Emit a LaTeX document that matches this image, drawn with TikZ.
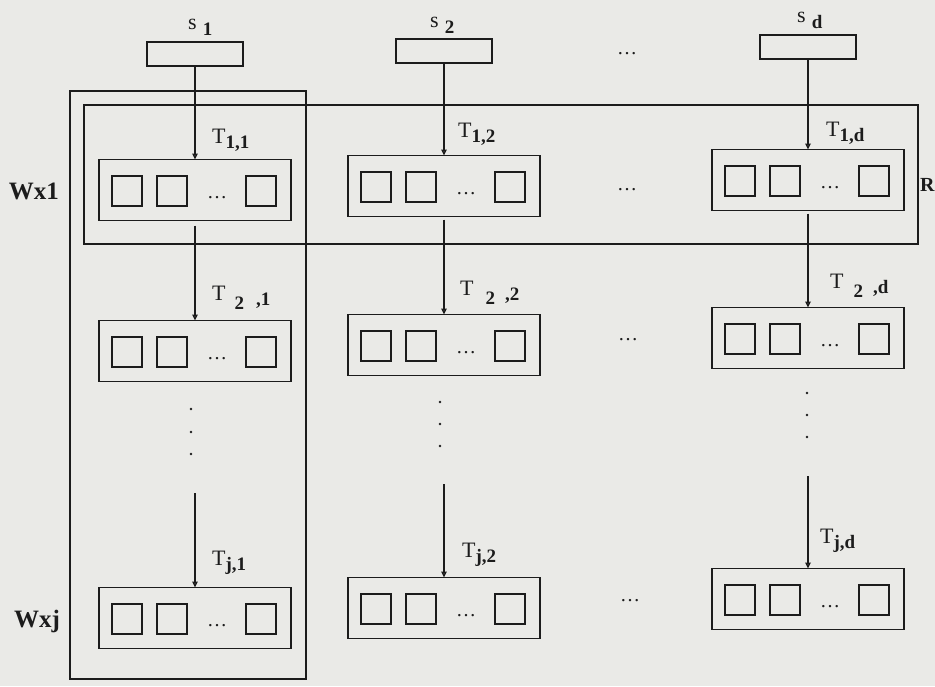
\documentclass[tikz,border=0pt]{standalone}
\usepackage{fontspec}
\setmainfont{Liberation Serif}
\usetikzlibrary{arrows.meta}
\definecolor{paper}{RGB}{234,234,231}
\definecolor{ink}{RGB}{28,28,28}
\newcommand{\subf}{\fontsize{19}{19}\selectfont\bfseries}
\newcommand{\labf}{\fontsize{22}{22}\selectfont}
\newcommand{\cellbox}[3]{%
  \node[cellbox] (#1) at (#2,#3) {};
  \node[sq] (#1a) at ({#2-68},{#3+1}) {};
  \node[sq] (#1b) at ({#2-23},{#3+1}) {};
  \node[sq] (#1c) at ({#2+66},{#3+1}) {};
  \node[hdots] (#1d) at ({#2+22},{#3+8}) {…};
}
\begin{document}
\begin{tikzpicture}[x=1pt,y=-1pt,
  every node/.style={text=ink},
  frame/.style={draw=ink, line width=1.8pt, inner sep=0pt, outer sep=0pt},
  cellbox/.style={frame, minimum width=192pt, minimum height=61pt},
  sbox/.style={frame, minimum width=96pt, minimum height=24pt},
  sq/.style={draw=ink, line width=2pt, inner sep=0pt, minimum size=30pt},
  hdots/.style={anchor=base, inner sep=0pt, font=\fontsize{20}{20}\selectfont},
  vdot/.style={circle, fill=ink, inner sep=0pt, minimum size=2.8pt},
  lab/.style={anchor=base west, inner sep=0pt, font=\labf},
  side/.style={anchor=base, inner sep=0pt, font=\fontsize{25}{25}\selectfont\bfseries},
  arr/.style={draw=ink, line width=1.5pt, -{Triangle[open, length=6pt, width=5.5pt]}}
]
\fill[paper] (0,0) rectangle (935,686);
\useasboundingbox (0,0) rectangle (935,686);

% grouping frames
\node[frame, minimum width=236pt, minimum height=588pt] (wcol) at (188,385) {};
\node[frame, minimum width=834pt, minimum height=139pt] (rrow) at (501,174.5) {};

% top source boxes
\node[sbox] (s1) at (195,54) {};
\node[sbox] (s2) at (444,51) {};
\node[sbox] (sd) at (808,47) {};
\node[lab] (ls1) at (188,29) {s\hspace{6pt}\raisebox{-6pt}{\subf 1}};
\node[lab] (ls2) at (430,27) {s\hspace{6pt}\raisebox{-6pt}{\subf 2}};
\node[lab] (lsd) at (797,22) {s\hspace{6pt}\raisebox{-6pt}{\subf d}};
\node[hdots] (topdots) at (627,54) {…};

% cells
\cellbox{r1c1}{195}{190}
\cellbox{r1c2}{444}{186}
\cellbox{r1cd}{808}{180}
\cellbox{r2c1}{195}{351}
\cellbox{r2c2}{444}{345}
\cellbox{r2cd}{808}{338}
\cellbox{rjc1}{195}{618}
\cellbox{rjc2}{444}{608}
\cellbox{rjcd}{808}{599}

% horizontal dots between columns
\node[hdots] (h1) at (627,190) {…};
\node[hdots] (h2) at (628,340) {…};
\node[hdots] (hj) at (630,601) {…};

% vertical dots
\node[vdot] (v1a) at (191,409) {};
\node[vdot] (v1b) at (191,432) {};
\node[vdot] (v1c) at (191,454) {};
\node[vdot] (v2a) at (440,402) {};
\node[vdot] (v2b) at (440,424) {};
\node[vdot] (v2c) at (440,446) {};
\node[vdot] (vda) at (807,393) {};
\node[vdot] (vdb) at (807,415) {};
\node[vdot] (vdc) at (807,437) {};

% arrows
\draw[arr] (s1) -- (r1c1);
\draw[arr] (s2) -- (r1c2);
\draw[arr] (sd) -- (r1cd);
\draw[arr, shorten <=5pt] (r1c1) -- (r2c1);
\draw[arr, shorten <=3pt] (r1c2) -- (r2c2);
\draw[arr, shorten <=3pt] (r1cd) -- (r2cd);
\coordinate (f1) at (195,493);
\coordinate (f2) at (444,484);
\coordinate (fd) at (808,476);
\draw[arr] (f1) -- (rjc1);
\draw[arr] (f2) -- (rjc2);
\draw[arr] (fd) -- (rjcd);

% arrow labels
\node[lab] (t11) at (212,143) {T\raisebox{-5pt}{\subf 1,1}};
\node[lab] (t12) at (458,137) {T\raisebox{-5pt}{\subf 1,2}};
\node[lab] (t1d) at (826,136) {T\raisebox{-5pt}{\subf 1,d}};
\node[lab] (t21) at (212,300) {T\hspace{9pt}\raisebox{-9pt}{\subf 2}\hspace{12pt}\raisebox{-5pt}{\subf ,1}};
\node[lab] (t22) at (460,295) {T\hspace{12pt}\raisebox{-9pt}{\subf 2}\hspace{10pt}\raisebox{-5pt}{\subf ,2}};
\node[lab] (t2d) at (830,288) {T\hspace{10pt}\raisebox{-9pt}{\subf 2}\hspace{10pt}\raisebox{-5pt}{\subf ,d}};
\node[lab] (tj1) at (212,565) {T\raisebox{-5pt}{\subf j,1}};
\node[lab] (tj2) at (462,557) {T\raisebox{-5pt}{\subf j,2}};
\node[lab] (tjd) at (820,543) {T\raisebox{-5pt}{\subf j,d}};

% side labels
\node[side] (wx1) at (34,199) {Wx1};
\node[side] (wxj) at (37,627) {Wxj};
\node[side, anchor=base west, font=\fontsize{20}{20}\selectfont\bfseries] (rlab) at (920,191) {R};
\end{tikzpicture}
\end{document}
